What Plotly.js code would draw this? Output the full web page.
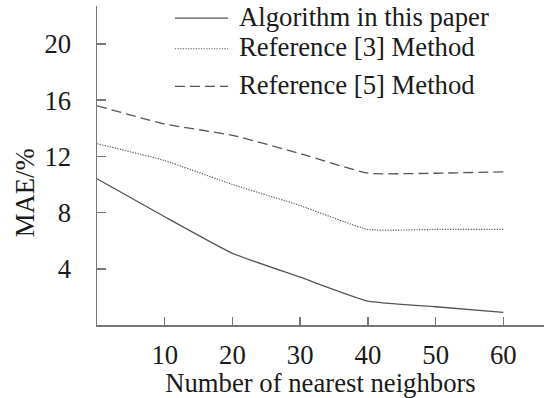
<!DOCTYPE html>
<html>
<head>
<meta charset="utf-8">
<script src="https://cdn.plot.ly/plotly-3.0.1.min.js"></script>
<style>html,body{margin:0;padding:0;background:#fff;}#chart{width:544px;height:398px;}</style>
</head>
<body>
<div id="chart"></div>
<script>
const neighbors = [0, 10, 20, 30, 40, 50, 60];
const algorithmMAE = [10.4, 7.7, 5.1, 3.4, 1.7, 1.3, 0.9];
const ref3MAE = [12.9, 11.7, 10.0, 8.5, 6.8, 6.8, 6.8];
const ref5MAE = [15.6, 14.3, 13.5, 12.2, 10.8, 10.8, 10.9];
const seriesNames = ["Algorithm in this paper", "Reference [3] Method", "Reference [5] Method"];
const xTicks = [10, 20, 30, 40, 50, 60];
const yTicks = [4, 8, 12, 16, 20];

const lineColor = "#555555";
const font = {family: "Liberation Serif, Times New Roman, serif", size: 26.7, color: "#1a1a1a"};
const dashes = ["solid", "1.2px,1.4px", "10px,5px"];
const widths = [1.3, 1.2, 1.3];
const seriesData = [algorithmMAE, ref3MAE, ref5MAE];

const traces = seriesData.map((ys, i) => ({
  x: neighbors, y: ys, name: seriesNames[i], mode: "lines",
  line: {color: lineColor, width: widths[i], dash: dashes[i], shape: "spline", smoothing: 0.4}
}));

// custom legend (sample line + label), in paper coordinates
const legendRowsY = [0.962, 0.866, 0.748];
const legendX0 = 0.1745, legendX1 = 0.293, legendTextX = 0.314;
const shapes = seriesNames.map((n, i) => ({
  type: "line", xref: "paper", yref: "paper",
  x0: legendX0, x1: legendX1, y0: legendRowsY[i], y1: legendRowsY[i],
  line: {color: lineColor, width: widths[i], dash: dashes[i]}
}));
const annotations = seriesNames.map((n, i) => ({
  text: n, xref: "paper", yref: "paper", x: legendTextX, y: legendRowsY[i] + 0.004,
  xanchor: "left", yanchor: "middle", showarrow: false, font: font
}));
annotations.push({
  text: "MAE/%", xref: "paper", yref: "paper", x: -0.162, y: 0.415,
  xanchor: "center", yanchor: "middle", textangle: -90, showarrow: false, font: font
});

const layout = {
  width: 544, height: 398,
  margin: {l: 97, r: 0, t: 6, b: 73},
  paper_bgcolor: "#fff", plot_bgcolor: "#fff",
  font: font,
  showlegend: false,
  shapes: shapes,
  annotations: annotations,
  xaxis: {
    range: [0, 66], tickvals: xTicks, ticktext: xTicks.map(String),
    showgrid: false, zeroline: false, showline: true, linecolor: "#777", linewidth: 1.5,
    ticks: "inside", ticklen: 8, tickcolor: "#777", tickwidth: 1.5,
    ticklabelstandoff: 5,
    title: {text: "Number of nearest neighbors", font: font, standoff: 0}
  },
  yaxis: {
    range: [0, 22.7], tickvals: yTicks, ticktext: yTicks.map(String),
    showgrid: false, zeroline: false, showline: true, linecolor: "#777", linewidth: 1.5,
    ticks: "inside", ticklen: 9, tickcolor: "#777", tickwidth: 1.5,
    ticklabelstandoff: 19
  }
};

Plotly.newPlot("chart", traces, layout, {displayModeBar: false, staticPlot: true});
</script>
</body>
</html>
